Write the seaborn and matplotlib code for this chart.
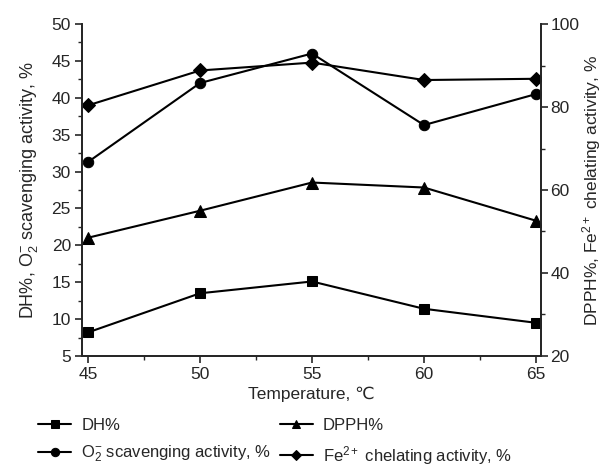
import matplotlib
matplotlib.use("Agg")
import matplotlib.pyplot as plt
from matplotlib.ticker import MultipleLocator
import seaborn as sns
import pandas as pd

temperature = [45, 50, 55, 60, 65]
dh = [8.2, 13.5, 15.1, 11.4, 9.5]
o2_scav = [31.3, 42.0, 46.0, 36.3, 40.5]
dpph = [48.5, 55.0, 61.8, 60.6, 52.6]
fe_chel = [80.4, 88.8, 90.7, 86.5, 86.8]

sns.set_style("ticks")
plt.rcParams['font.family'] = ['Liberation Sans', 'DejaVu Sans']
plt.rcParams['mathtext.fontset'] = 'custom'
plt.rcParams['mathtext.rm'] = 'Liberation Sans'
plt.rcParams['mathtext.it'] = 'Liberation Sans'
plt.rcParams['font.size'] = 12

df = pd.DataFrame({'T': temperature, 'DH': dh, 'O2': o2_scav,
                   'DPPH': dpph, 'Fe': fe_chel})

fig = plt.figure(figsize=(6.03, 4.67), dpi=100)
ax = fig.add_axes([0.136, 0.2377, 0.761, 0.7109])
ax2 = ax.twinx()

kw = dict(color='black', linewidth=1.5, markeredgecolor='black')
sns.lineplot(data=df, x='T', y='DH', ax=ax, marker='s', markersize=6.5,
             label='DH%', legend=False, **kw)
sns.lineplot(data=df, x='T', y='O2', ax=ax, marker='o', markersize=7.5,
             label=r'O$_2^{-}$ scavenging activity, %', legend=False, **kw)
sns.lineplot(data=df, x='T', y='DPPH', ax=ax2, marker='^', markersize=8,
             label='DPPH%', legend=False, **kw)
sns.lineplot(data=df, x='T', y='Fe', ax=ax2, marker='D', markersize=7,
             label=r'Fe$^{2+}$ chelating activity, %', legend=False, **kw)

ax.set_xlim(44.73, 65.22)
ax.set_ylim(5, 50)
ax2.set_ylim(20, 100)
ax.xaxis.set_major_locator(MultipleLocator(5))
ax.xaxis.set_minor_locator(MultipleLocator(2.5))
ax.yaxis.set_major_locator(MultipleLocator(5))
ax.yaxis.set_minor_locator(MultipleLocator(2.5))
ax2.yaxis.set_major_locator(MultipleLocator(20))
ax2.yaxis.set_minor_locator(MultipleLocator(10))

for a in (ax, ax2):
    a.spines['top'].set_visible(False)
    for s in a.spines.values():
        s.set_linewidth(1.3)
    a.tick_params(which='major', direction='out', length=5, width=1.2,
                  labelsize=12.5, pad=3)
    a.tick_params(which='minor', direction='out', length=3, width=1.0)
ax2.tick_params(which='major', pad=2)

ax.set_xlabel('Temperature, ℃', fontsize=12.5, labelpad=3)
ax.set_ylabel(r'DH%, O$_2^{-}$ scavenging activity, %', fontsize=13, labelpad=8)
ax2.set_ylabel(r'DPPH%, Fe$^{2+}$ chelating activity, %', fontsize=12.5, labelpad=0)

h1, l1 = ax.get_legend_handles_labels()
h2, l2 = ax2.get_legend_handles_labels()
handles = [h1[0], h1[1], h2[0], h2[1]]
labels = [l1[0], l1[1], l2[0], l2[1]]
fig.legend(handles, labels, ncol=2, loc='upper left',
           bbox_to_anchor=(0.063, 0.105), borderaxespad=0, borderpad=0,
           frameon=False, fontsize=12, handlelength=2.0, columnspacing=0.5,
           labelspacing=0.65, handletextpad=0.6, markerscale=0.8)

fig.savefig('out.png', dpi=100)
